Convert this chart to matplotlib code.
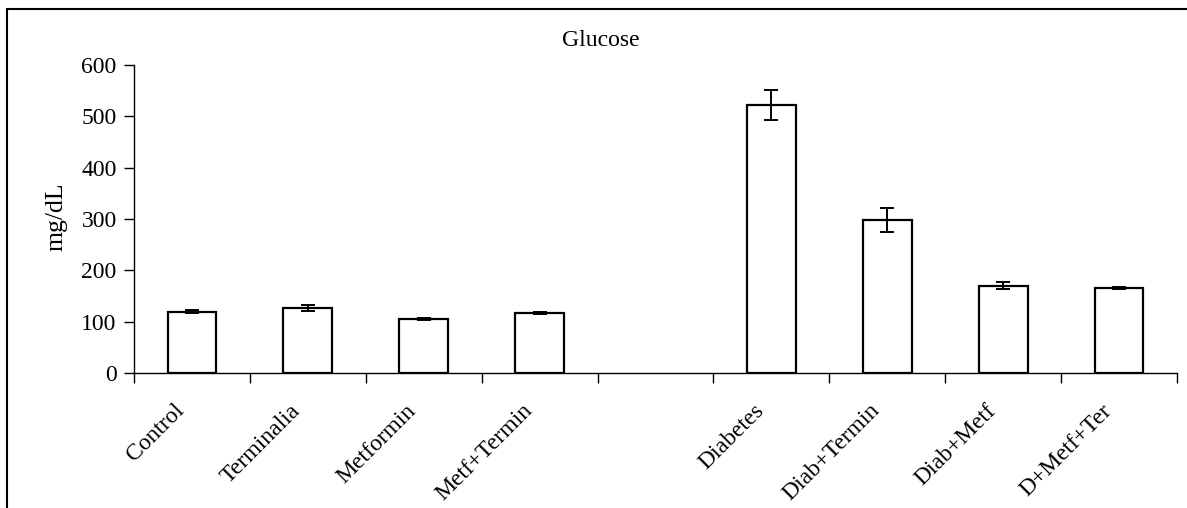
import matplotlib
matplotlib.use("Agg")
import matplotlib.pyplot as plt
import matplotlib.transforms as mtransforms
from matplotlib.patches import Rectangle
import numpy as np

plt.rcParams['font.family'] = ['Liberation Serif', 'DejaVu Serif']

title = "Glucose"
ylabel = "mg/dL"
# blank entry = empty slot between the two groups
categories = ["Control", "Terminalia", "Metformin", "Metf+Termin", "",
              "Diabetes", "Diab+Termin", "Diab+Metf", "D+Metf+Ter"]
means = [119, 126, 105, 116, None, 522, 298, 170, 166]
errors = [3, 6, 2, 2, None, 29, 24, 7, 2]
yticks = [0, 100, 200, 300, 400, 500, 600]

W, H = 1187, 508
fig = plt.figure(figsize=(W / 100, H / 100), dpi=100)
ax = fig.add_axes([134 / W, 1 - 373 / H, (1177 - 134) / W, (373 - 65) / H])

pos = [i for i, v in enumerate(means) if v is not None]
vals = [means[i] for i in pos]
errs = [errors[i] for i in pos]

ax.bar(pos, vals, width=0.42, color="white", edgecolor="black", linewidth=1.6, zorder=2)
ax.errorbar(pos, vals, yerr=errs, fmt="none", ecolor="black", elinewidth=1.4,
            capsize=5, capthick=1.4, zorder=3)

ax.set_xlim(-0.5, len(categories) - 0.5)
ax.set_ylim(yticks[0], yticks[-1])
ax.set_yticks(yticks)
ax.set_yticklabels([str(t) for t in yticks], fontsize=17)
ax.tick_params(axis="y", direction="out", length=7, width=1, pad=5.5)

ax.set_xticks(range(len(categories)))
ax.set_xticklabels(categories, fontsize=17, rotation=45, ha="right", va="top",
                   rotation_mode="anchor")
ax.set_xticks(np.arange(-0.5, len(categories), 1.0), minor=True)
ax.tick_params(axis="x", which="major", length=0, pad=19.5)
ax.tick_params(axis="x", which="minor", direction="out", length=7, width=1)

offset = mtransforms.ScaledTranslation(-18 / 100, 0, fig.dpi_scale_trans)
for lab in ax.get_xticklabels():
    lab.set_transform(lab.get_transform() + offset)

for s in ["top", "right"]:
    ax.spines[s].set_visible(False)
for s in ["left", "bottom"]:
    ax.spines[s].set_linewidth(1.0)

fig.text(57 / W, 1 - 217 / H, ylabel, rotation=90, ha="center", va="center", fontsize=18.5)
fig.text(601 / W, 1 - 40 / H, title, ha="center", va="center", fontsize=17)

fig.patches.append(Rectangle((7 / W, -0.1), 1.2, 1.1 - 9 / H, transform=fig.transFigure,
                             fill=False, edgecolor="black", linewidth=1.5))

fig.savefig("out.png", dpi=100)
